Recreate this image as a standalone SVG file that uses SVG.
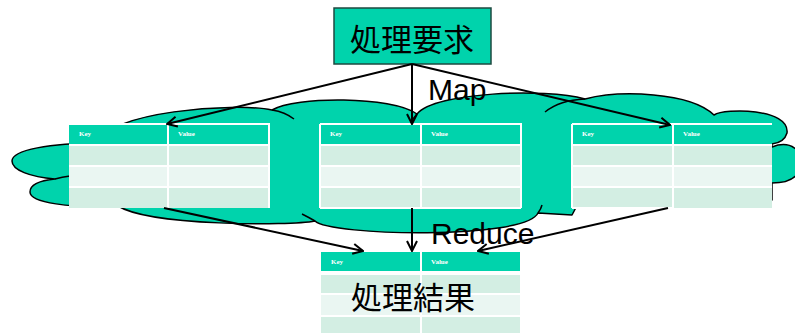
<svg xmlns="http://www.w3.org/2000/svg" width="795" height="333" viewBox="0 0 795 333">
<defs>
<style>
.cloud{fill:#00D3AC;stroke:#000;stroke-width:1.5;stroke-linejoin:round}
.arc{fill:none;stroke:#000;stroke-width:1.5}
.hd{fill:#00D3AC}
.r1{fill:#D3EEE3}
.r2{fill:#EAF6F2}
.gl{stroke:#fff;stroke-width:2;fill:none}
.kv{font-family:"Liberation Serif",serif;font-size:7px;font-weight:bold;fill:#fff}
.big{font-family:"Liberation Sans","Noto Sans CJK JP",sans-serif;font-size:31px;fill:#000;text-anchor:middle}
.lbl{font-family:"Liberation Sans",Arial,sans-serif;font-size:30px;fill:#000}
.cn{stroke:#000;stroke-width:2;fill:none;marker-end:url(#ah)}
</style>
<marker id="ah" viewBox="0 0 12 12" refX="11" refY="6" markerWidth="12" markerHeight="12" markerUnits="userSpaceOnUse" orient="auto">
<path d="M1,1 L11,6 L1,11" fill="none" stroke="#000" stroke-width="2"/>
</marker>
</defs>

<g id="cloud">
<path class="cloud" d="M100,143 C105,112 235,102 272,110 C295,96 392,96 417,114 C435,92 545,88 585,99 C620,90 690,92 714,115 C725,108 790,108 787,133 C785,140 780,143 772,144 L772,147 C790,140 805,150 800,168 C797,180 785,183 772,183 L772,200 L580,200 L572,215 L538,213 C525,240 330,236 315,221 C290,226 150,226 118,206 C70,208 30,203 30,192 C30,183 45,180 55,179 C30,177 12,170 12,161 C12,150 50,143 100,143 Z"/>
<path class="arc" d="M272,110 Q285,112 294,119"/>
<path class="arc" d="M417,114 Q413,118 411,123"/>
<path class="arc" d="M545,112 Q560,100 585,99"/>
<path class="arc" d="M538,213 Q541,209 542,205"/>
<path class="arc" d="M315,221 Q308,217 302,214"/>
<path class="arc" d="M55,179 Q62,177 70,176"/>
</g>

<g id="table-left">
<rect class="hd" x="69" y="124" width="200" height="20"/>
<rect class="r1" x="69" y="146" width="200" height="20"/>
<rect class="r2" x="69" y="166" width="200" height="21"/>
<rect class="r1" x="69" y="187" width="200" height="21"/>
<path class="gl" d="M69,124H269V208M69,145H269M69,166H269M69,187H269M168,124V208"/>
<text class="kv" x="79" y="136">Key</text>
<text class="kv" x="178" y="136">Value</text>
</g>

<g id="table-middle">
<rect class="hd" x="320" y="124" width="201" height="20"/>
<rect class="r1" x="320" y="146" width="201" height="20"/>
<rect class="r2" x="320" y="166" width="201" height="21"/>
<rect class="r1" x="320" y="187" width="201" height="21"/>
<path class="gl" d="M320,124V208M320,124H521V208M320,145H521M320,166H521M320,187H521M320,208H521M421,124V208"/>
<text class="kv" x="330" y="136">Key</text>
<text class="kv" x="431" y="136">Value</text>
</g>

<g id="table-right">
<rect class="hd" x="572" y="124" width="200" height="20"/>
<rect class="r1" x="572" y="146" width="200" height="20"/>
<rect class="r2" x="572" y="166" width="200" height="21"/>
<rect class="r1" x="572" y="187" width="200" height="21"/>
<path class="gl" d="M572,124V208M572,124H772M572,145H772M572,166H772M572,187H772M572,208H673M673,124V208"/>
<text class="kv" x="582" y="136">Key</text>
<text class="kv" x="683" y="136">Value</text>
</g>

<g id="result">
<rect class="hd" x="321" y="252" width="199" height="19"/>
<rect class="r1" x="321" y="275" width="199" height="19"/>
<rect class="r2" x="321" y="294" width="199" height="22"/>
<rect class="r1" x="321" y="316" width="199" height="17"/>
<path class="gl" d="M321,294H520M321,316H520M421,252V333"/>
<text class="kv" x="331" y="264">Key</text>
<text class="kv" x="431" y="264">Value</text>
<text class="big" x="413" y="309">処理結果</text>
</g>

<g id="request">
<rect x="334" y="8" width="157" height="56" fill="#00D3AC" stroke="#1E4A40" stroke-width="1.5"/>
<text class="big" x="412" y="51">処理要求</text>
</g>

<g id="connectors">
<path class="cn" d="M412,64 L167,124"/>
<path class="cn" d="M412,64 L412,124"/>
<path class="cn" d="M412,64 L670,125"/>
<path class="cn" d="M164,208 L363,251"/>
<path class="cn" d="M412,208 L412,251"/>
<path class="cn" d="M668,208 L478,251"/>
</g>

<g id="labels">
<text class="lbl" x="428" y="100">Map</text>
<text class="lbl" x="431" y="244" font-size="31">Reduce</text>
</g>
</svg>
